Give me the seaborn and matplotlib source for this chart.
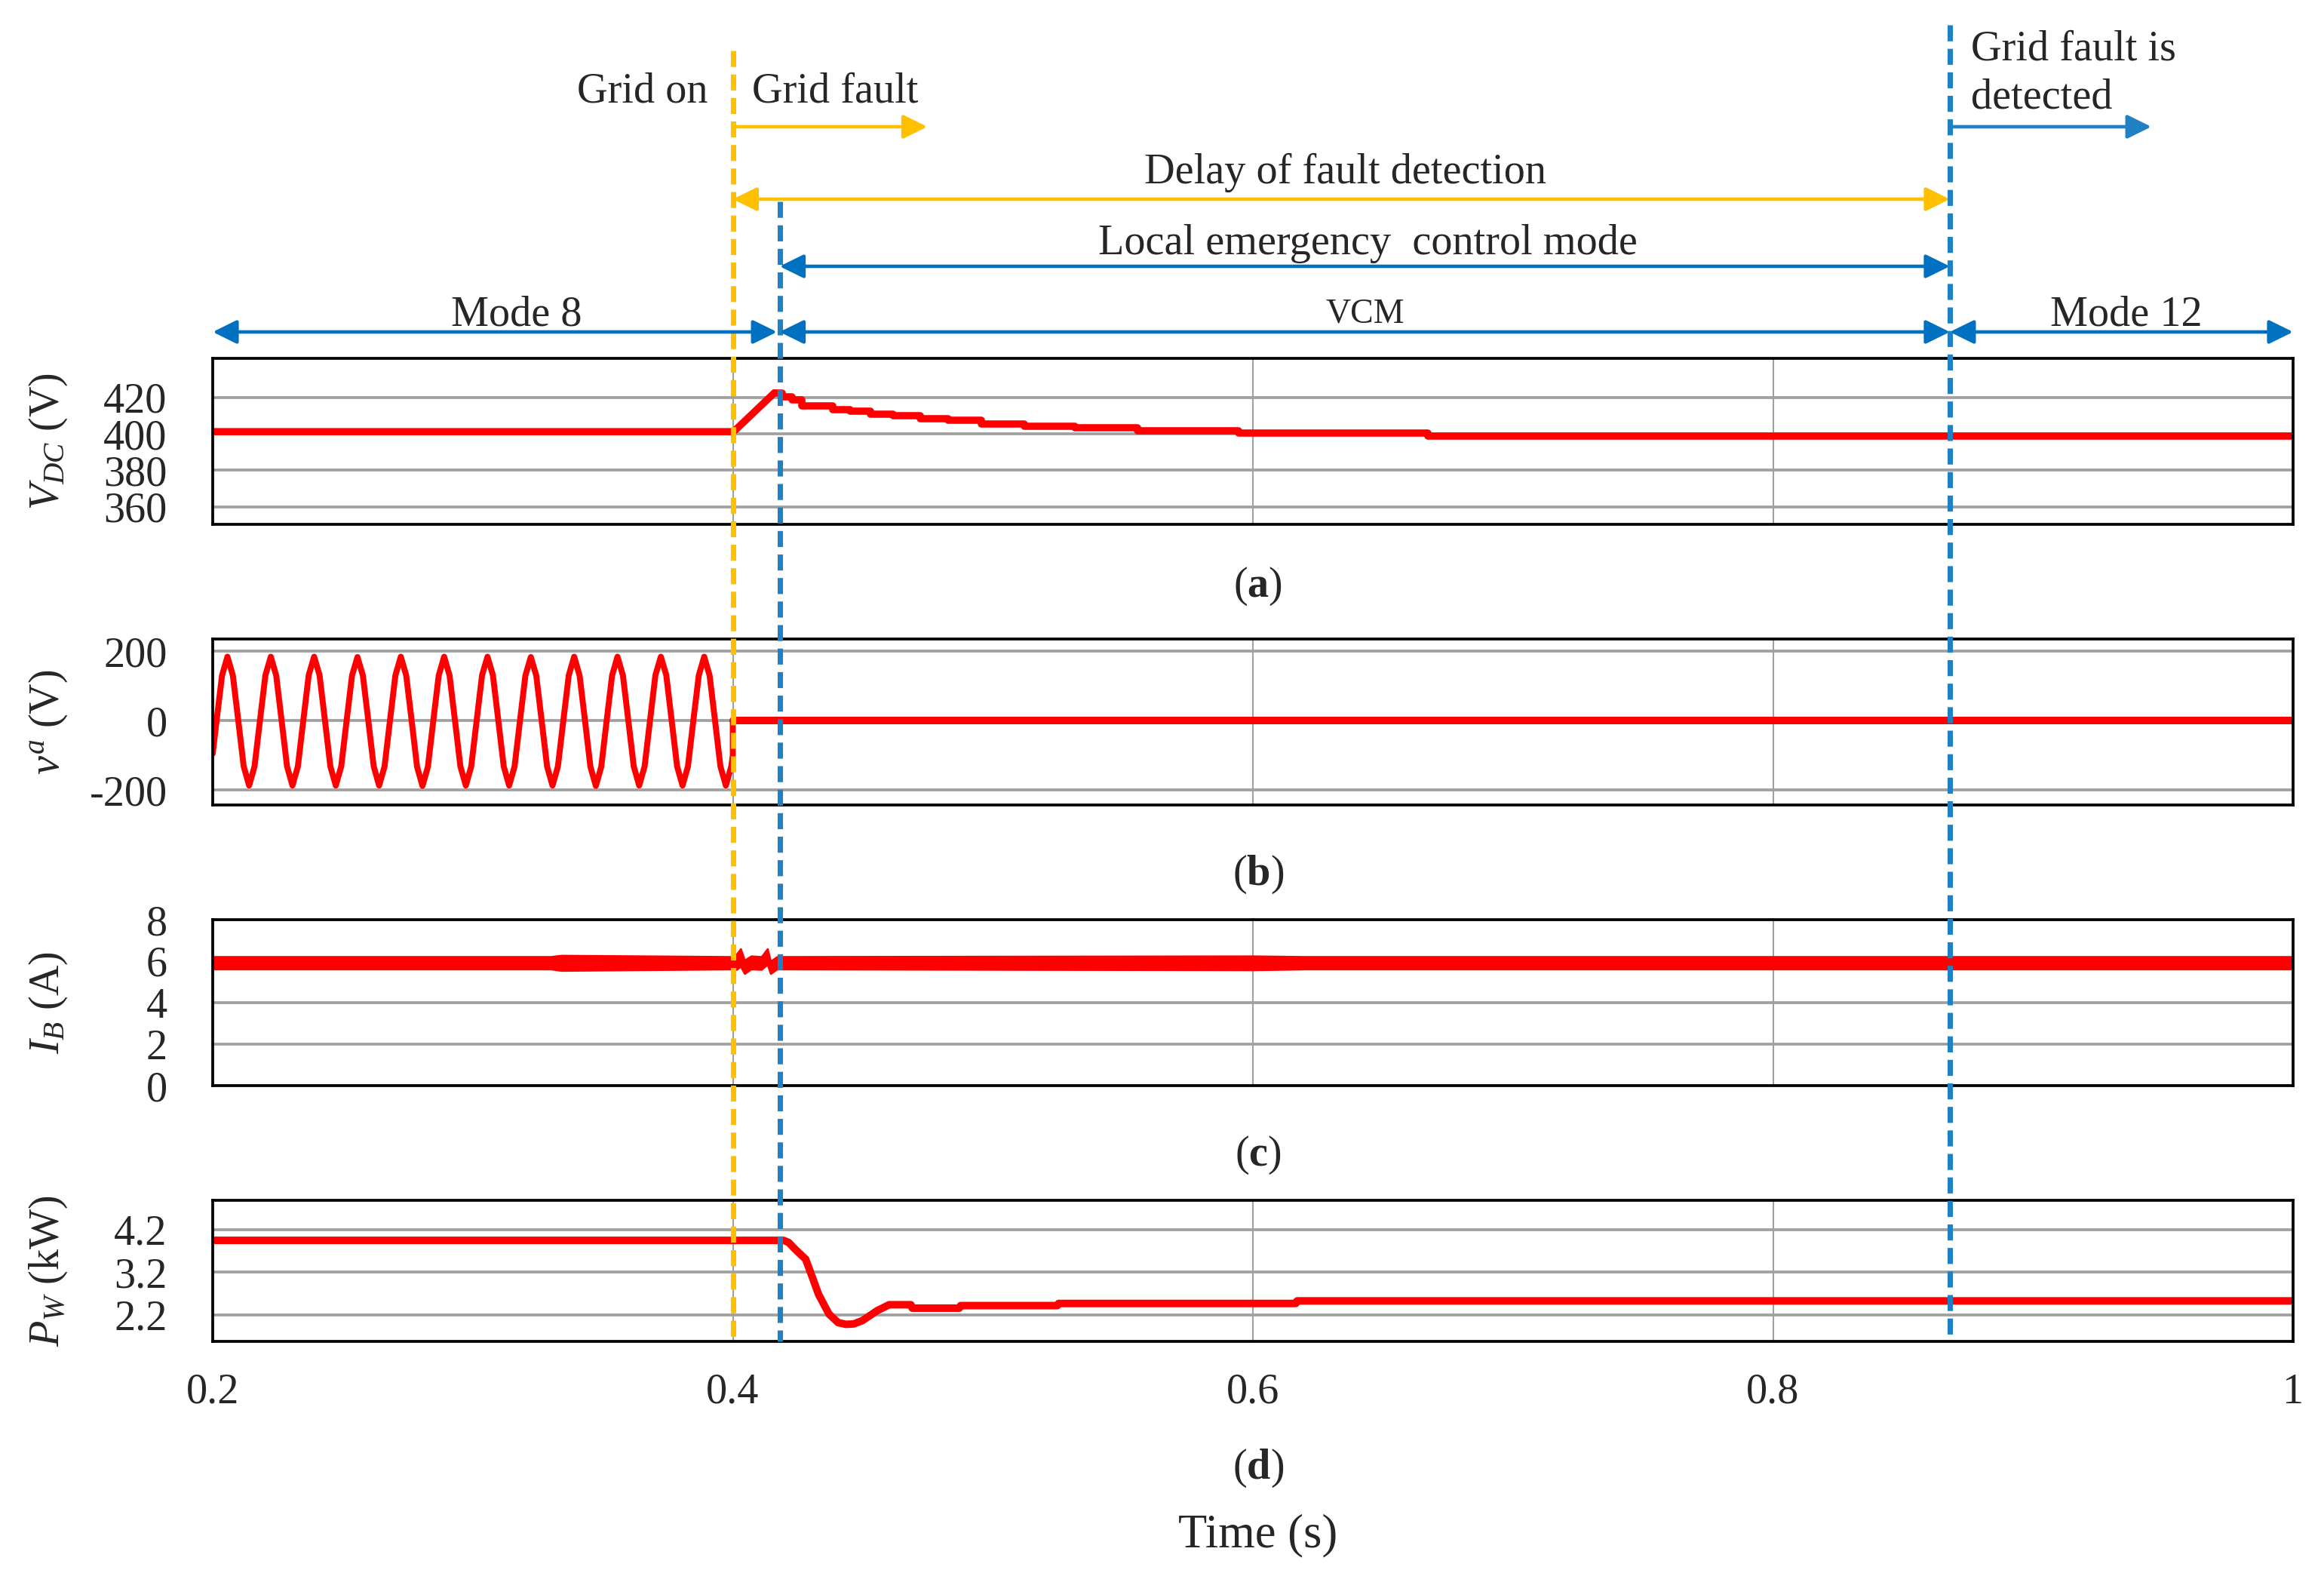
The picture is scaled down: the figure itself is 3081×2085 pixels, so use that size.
import numpy as np
import matplotlib
matplotlib.use("Agg")
import matplotlib.pyplot as plt
import seaborn as sns

# ---- values (time in s) ----
# (a) DC-link voltage: linear rise after the fault, then a staircase decay
vdc_rise_t = [0.2, 0.4003, 0.4160]
vdc_rise_v = [401.2, 401.2, 422.5]
vdc_step_t = [0.4160, 0.4190, 0.4227, 0.4266, 0.4383, 0.4451, 0.4528, 0.4616, 0.4722,
              0.4829, 0.4955, 0.5120, 0.5315, 0.5557, 0.5945, 0.6673, 1.0]
vdc_step_v = [422.5, 420.5, 418.6, 415.4, 413.3, 412.3, 410.9, 409.8, 408.5,
              407.4, 405.6, 404.3, 403.2, 401.8, 400.4, 399.0, 399.0]

# (b) grid phase voltage, sampled every 1/8 of a 60 Hz cycle from the first zero crossing
va_t0 = 0.2015
va_dt = 0.0020833
va_cycles = [
    [0, 130, 184, 130, 0, -132, -187, -132],
    [0, 130, 184, 130, 0, -132, -187, -132],
    [0, 131, 184, 131, 0, -132, -187, -132],
    [0, 130, 183, 130, 0, -132, -187, -132],
    [0, 130, 184, 130, 0, -133, -188, -133],
    [0, 130, 184, 130, 0, -132, -187, -132],
    [0, 131, 184, 131, 0, -132, -187, -132],
    [0, 130, 183, 130, 0, -132, -187, -132],
    [0, 130, 184, 130, 0, -133, -188, -133],
    [0, 130, 184, 130, 0, -132, -187, -132],
    [0, 131, 184, 131, 0, -132, -187, -132],
    [0, 130, 184, 130, 0, -132, -187, -132],
]
va_head_t = [0.2]
va_head_v = [-95]
va_tail_t = [0.4, 0.4]
va_tail_v = [-100, 0]
va_off_t = [0.4, 1.0]
va_off_v = [0, 0]

# (c) battery current: noisy band around 6 A (lower / upper envelope)
ib_t = [0.2, 0.330, 0.334, 0.399, 0.4015, 0.403, 0.4045, 0.407, 0.411, 0.4133, 0.4145,
        0.417, 0.60, 0.62, 1.0]
ib_lo = [5.62, 5.62, 5.55, 5.62, 5.60, 5.75, 5.40, 5.62, 5.60, 5.85, 5.40,
         5.62, 5.58, 5.62, 5.62]
ib_hi = [6.22, 6.22, 6.28, 6.22, 6.35, 6.60, 6.05, 6.25, 6.22, 6.60, 6.00,
         6.22, 6.25, 6.22, 6.22]

# (d) wind power
pw_t = [0.2, 0.4195, 0.4215, 0.424, 0.428, 0.4305, 0.433, 0.437, 0.4405, 0.4435, 0.4465,
        0.4499, 0.4555, 0.4601, 0.4685, 0.4690, 0.4871, 0.4876, 0.5248, 0.5253, 0.6165,
        0.6170, 1.0]
pw_v = [3.95, 3.95, 3.90, 3.74, 3.51, 3.10, 2.68, 2.22, 2.02, 1.98, 1.99,
        2.07, 2.30, 2.44, 2.44, 2.36, 2.36, 2.42, 2.42, 2.47, 2.47,
        2.53, 2.53]

# event times
t_grid_fault = 0.4
t_vcm = 0.418
t_detect = 0.868

x_ticks = [0.2, 0.4, 0.6, 0.8, 1.0]
x_ticklabels = ["0.2", "0.4", "0.6", "0.8", "1"]

# ---- style ----
sns.set_style("white")
plt.rcParams["font.family"] = ["Liberation Serif", "DejaVu Serif"]
plt.rcParams["mathtext.fontset"] = "custom"
plt.rcParams["mathtext.rm"] = "Liberation Serif"
plt.rcParams["mathtext.it"] = "Liberation Serif:italic"
plt.rcParams["mathtext.bf"] = "Liberation Serif:bold"

FS = 13.5
RED = "#FF0000"
GRID = "#A0A0A0"
YEL = "#FFC000"
BLUE = "#0070C0"
BLUE_D = "#1F80C4"

W, H = 3081, 2085
fig = plt.figure(figsize=(W / 300, H / 300), dpi=300)

left, right = 282, 3040
panels = [(475, 695), (847, 1067), (1219, 1439), (1591, 1778)]


def make_axes(top, bottom):
    return fig.add_axes([left / W, 1 - bottom / H, (right - left) / W, (bottom - top) / H])


axes = [make_axes(t, b) for t, b in panels]

ylims = [(350.4, 441.4), (-243, 235), (0, 8), (1.58, 4.89)]
yticks = [[360, 380, 400, 420], [-200, 0, 200], [0, 2, 4, 6, 8], [2.2, 3.2, 4.2]]
yticklabels = [["360", "380", "400", "420"], ["-200", "0", "200"],
               ["0", "2", "4", "6", "8"], ["2.2", "3.2", "4.2"]]
ylabels = [r"$V_{DC}$ (V)", r"$v^{a}$ (V)", r"$I_{B}$ (A)", r"$P_{W}$ (kW)"]

for i, ax in enumerate(axes):
    ax.set_xlim(0.2, 1.0)
    ax.set_ylim(*ylims[i])
    ax.set_xticks(x_ticks)
    ax.set_yticks(yticks[i])
    ax.set_yticklabels(yticklabels[i], fontsize=FS)
    if i == 3:
        ax.set_xticklabels(x_ticklabels, fontsize=FS)
    else:
        ax.set_xticklabels([])
    ax.tick_params(axis="both", length=0)
    ax.tick_params(axis="y", pad=14.5)
    ax.tick_params(axis="x", pad=10)
    ax.grid(axis="y", color=GRID, linewidth=0.9)
    ax.grid(axis="x", color=GRID, linewidth=0.5)
    ax.set_axisbelow(True)
    for s in ax.spines.values():
        s.set_visible(True)
        s.set_color("black")
        s.set_linewidth(0.9)
    ax.set_ylabel(ylabels[i], fontsize=FS)
    ax.yaxis.set_label_coords(-0.069, 0.5)

# (a)
sns.lineplot(x=vdc_rise_t, y=vdc_rise_v, ax=axes[0], color=RED, linewidth=2.3,
             estimator=None, sort=False)
sns.lineplot(x=vdc_step_t, y=vdc_step_v, ax=axes[0], color=RED, linewidth=2.3,
             estimator=None, sort=False, drawstyle="steps-post")

# (b)
va_vals = [v for cyc in va_cycles for v in cyc]
va_grid = va_t0 + va_dt * np.arange(len(va_vals))
va_t = list(va_head_t) + list(va_grid) + list(va_tail_t)
va_v = list(va_head_v) + va_vals + list(va_tail_v)
sns.lineplot(x=va_t, y=va_v, ax=axes[1], color=RED, linewidth=1.9,
             estimator=None, sort=False)
sns.lineplot(x=va_off_t, y=va_off_v, ax=axes[1], color=RED, linewidth=2.4,
             estimator=None, sort=False)

# (c)
axes[2].fill_between(ib_t, ib_lo, ib_hi, color=RED, linewidth=0.6, edgecolor=RED)

# (d)
sns.lineplot(x=pw_t, y=pw_v, ax=axes[3], color=RED, linewidth=2.4,
             estimator=None, sort=False)

for ax, lab in zip(axes, ylabels):
    ax.set_xlabel("")
    ax.set_ylabel(lab, fontsize=FS)
    ax.yaxis.set_label_coords(-0.069, 0.5)

# ---- overlay for event lines and annotations (y in pixels from the top) ----
ov = fig.add_axes([left / W, 0, (right - left) / W, 1], zorder=10)
ov.set_xlim(0.2, 1.0)
ov.set_ylim(H, 0)
ov.axis("off")
ov.patch.set_alpha(0)

dash = (0, (3.0, 1.4))
ov.vlines(t_grid_fault, 67, 1778, colors=YEL, linewidth=1.7, linestyles=[dash])
ov.vlines(t_vcm, 267, 1778, colors=BLUE_D, linewidth=1.7, linestyles=[dash])
ov.vlines(t_detect, 33, 1778, colors=BLUE_D, linewidth=1.7, linestyles=[dash])


def arrow(x1, x2, y, color, style):
    ov.annotate("", xy=(x2, y), xytext=(x1, y), annotation_clip=False,
                arrowprops=dict(arrowstyle=style + ",head_length=0.65,head_width=0.32",
                                color=color, lw=1.1, shrinkA=0, shrinkB=0,
                                mutation_scale=10))


arrow(t_grid_fault, 0.4748, 168, YEL, "-|>")
arrow(t_detect, 0.9455, 168, BLUE_D, "-|>")
arrow(t_grid_fault, t_detect, 264, YEL, "<|-|>")
arrow(t_vcm, t_detect, 353, BLUE, "<|-|>")
arrow(0.2, 0.417, 440, BLUE, "<|-|>")
arrow(t_vcm, t_detect, 440, BLUE, "<|-|>")
arrow(t_detect, 1.0, 440, BLUE, "<|-|>")

txt = dict(fontsize=FS, va="baseline")
ov.text(0.3904, 135, "Grid on", ha="right", **txt)
ov.text(0.4075, 135, "Grid fault", ha="left", **txt)
ov.text(0.876, 80, "Grid fault is", ha="left", **txt)
ov.text(0.876, 143, "detected", ha="left", **txt)
ov.text(0.6354, 243, "Delay of fault detection", ha="center", **txt)
ov.text(0.6443, 337, "Local emergency  control mode", ha="center", **txt)
ov.text(0.3168, 431, "Mode 8", ha="center", **txt)
ov.text(0.6432, 428, "VCM", ha="center", fontsize=11, va="baseline")
ov.text(0.9357, 431, "Mode 12", ha="center", **txt)

for lab, yc in zip("abcd", [777, 1159, 1531, 1946]):
    ov.text(0.602, yc, r"($\mathbf{" + lab + "}$)", ha="center", va="center", fontsize=FS)
ov.text(0.602, 2035, "Time (s)", ha="center", va="center", fontsize=FS + 1.5)

fig.savefig("out.png", dpi=300, facecolor="white")
